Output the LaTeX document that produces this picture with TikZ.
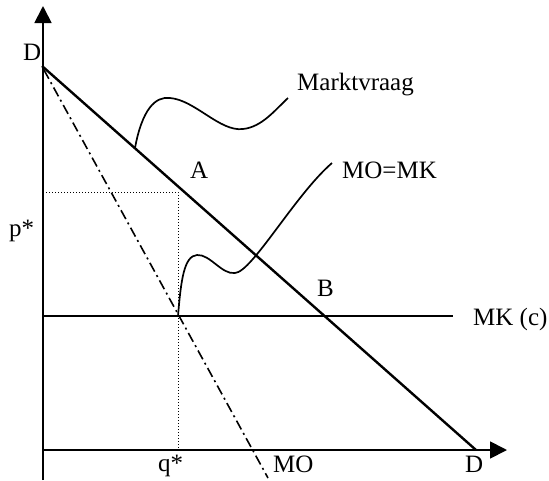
\documentclass[tikz,border=0pt]{standalone}
\usepackage{fontspec}
\setmainfont{Liberation Serif}
\usetikzlibrary{arrows.meta}
\begin{document}
\begin{tikzpicture}[
    x=1pt, y=-1pt,
    axis/.style={line width=1.8pt, -{Triangle[length=17pt,width=17pt]}},
    curve/.style={line width=2.4pt},
    mo/.style={line width=1.6pt, dash pattern=on 10pt off 4pt on 2pt off 4pt},
    callout/.style={line width=1.7pt},
    guide/.style={line width=1pt, dotted},
    lbl/.style={font=\fontsize{25}{30}\selectfont, inner sep=0pt, anchor=base west}
  ]
  \useasboundingbox (0,0) rectangle (549,480);
  \coordinate (O) at (43,450);
  \coordinate (Ytop) at (43,6);
  \coordinate (Ybot) at (43,480);
  \coordinate (Xend) at (507,450);
  \coordinate (D1) at (42,66);
  \coordinate (D2) at (476,450);
  \coordinate (MO1) at (44,70);
  \coordinate (MO2) at (268,478);
  \coordinate (E) at (178,316);
  \coordinate (MKend) at (453,316);
  \coordinate (P) at (43,192);
  \coordinate (Q) at (178,450);
  \coordinate (C) at (178,192);
  \coordinate (V) at (135,148);

  \draw[axis] (Ybot) -- (Ytop);
  \draw[axis] (O) -- (Xend);
  \draw[curve] (D1) -- (D2);
  \draw[mo] (MO1) -- (MO2);
  \draw[line width=1.8pt] (O |- E) -- (MKend);
  \draw[guide] (P) -- (C) -- (Q);

  \draw[callout] (V) .. controls (142,110) and (155,96) .. (170,98)
    .. controls (195,100) and (220,132) .. (243,129)
    .. controls (262,127) and (275,110) .. (288,98);
  \draw[callout] (E) .. controls (181,280) and (184,256) .. (197,255)
    .. controls (210,254) and (222,275) .. (235,273)
    .. controls (252,272) and (295,195) .. (332,163);

  \node[lbl] (Dtop) at (23,60) {D};
  \node[lbl] (pstar) at (9,236) {p*};
  \node[lbl] (qstar) at (158,471) {q*};
  \node[lbl] (MOlbl) at (273,472) {MO};
  \node[lbl] (Dbot) at (465,472) {D};
  \node[lbl] (A) at (190,178) {A};
  \node[lbl] (B) at (317,296) {B};
  \node[lbl] (MOMK) at (342,178) {MO=MK};
  \node[lbl] (vraag) at (297,90) {Marktvraag};
  \node[lbl] (MKc) at (473,325) {MK (c)};
\end{tikzpicture}
\end{document}
